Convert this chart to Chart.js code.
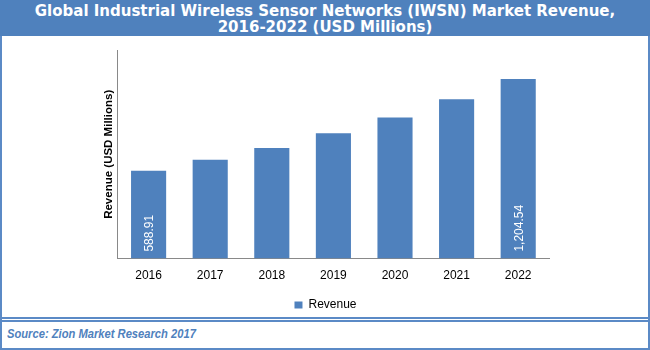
<!DOCTYPE html>
<html>
<head>
<meta charset="utf-8">
<script src="https://cdn.jsdelivr.net/npm/chart.js@4.4.1/dist/chart.umd.min.js"></script>
<style>
  html, body { margin: 0; padding: 0; background: #fff; }
  #frame { position: relative; width: 650px; height: 350px; overflow: hidden; background: #fff; }
  #header {
    position: absolute; left: 0; top: 0; width: 650px; height: 36px;
    background: #4f81bd; color: #fff; text-align: center;
    font: bold 15px "DejaVu Sans", Verdana, sans-serif; line-height: 16px;
    padding-top: 3px; box-sizing: border-box;
  }
  #panel {
    position: absolute; left: 0; top: 36px; width: 650px; height: 314px;
    box-sizing: border-box; border: 2px solid #5b8ac6; border-top: none;
  }
  #sep1 { position: absolute; left: 0; top: 317px; width: 650px; height: 2px; background: #5b8ac6; }
  #sep2 { position: absolute; left: 0; top: 320px; width: 650px; height: 2px; background: #5b8ac6; }
  #source {
    position: absolute; left: 7px; top: 326px;
    font: italic bold 13px "Liberation Sans", sans-serif;
    color: #4f81bd; transform: scaleX(0.86); transform-origin: left center;
    white-space: nowrap;
  }
  #wrap { position: absolute; left: 2px; top: 36px; width: 644px; height: 285px; }
</style>
</head>
<body>
<div id="frame">
  <div id="header">Global Industrial Wireless Sensor Networks (IWSN) Market Revenue,<br>2016-2022 (USD Millions)</div>
  <div id="panel"></div>
  <div id="sep1"></div>
  <div id="sep2"></div>
  <div id="source">Source: Zion Market Research 2017</div>
  <div id="wrap"><canvas id="grafico"></canvas></div>
</div>
<script>
// ========== Datos ==========
const anios = ["2016", "2017", "2018", "2019", "2020", "2021", "2022"];
const ingresos = [588.91, 664, 743, 841, 947, 1069, 1204.54];
const etiquetas = ["588.91", "", "", "", "", "", "1,204.54"];
const ejeMax = 1400;

// ========== Etiquetas dentro de las barras ==========
const etiquetasBarras = {
  id: "etiquetasBarras",
  afterDatasetsDraw(chart) {
    const ctx = chart.ctx;
    const meta = chart.getDatasetMeta(0);
    const base = chart.scales.y.getPixelForValue(0);
    ctx.save();
    ctx.fillStyle = "#ffffff";
    ctx.font = "12px 'Liberation Sans', sans-serif";
    ctx.textAlign = "left";
    ctx.textBaseline = "middle";
    meta.data.forEach((bar, i) => {
      if (!etiquetas[i]) return;
      ctx.save();
      ctx.translate(bar.x + 1, base - 7);
      ctx.rotate(-Math.PI / 2);
      ctx.fillText(etiquetas[i], 0, 0);
      ctx.restore();
    });
    ctx.restore();
  },
};

new Chart(document.getElementById("grafico"), {
  type: "bar",
  data: {
    labels: anios,
    datasets: [
      {
        label: "Revenue",
        data: ingresos,
        backgroundColor: "#4f81bd",
        barPercentage: 0.57,
        categoryPercentage: 1,
      },
    ],
  },
  options: {
    responsive: true,
    maintainAspectRatio: false,
    animation: false,
    layout: { padding: { left: 100, right: 97, top: 14, bottom: 0 } },
    plugins: {
      legend: {
        position: "bottom",
        labels: {
          boxWidth: 8,
          boxHeight: 7,
          color: "#000",
          font: { size: 12, family: "'Liberation Sans', sans-serif" },
          padding: 6,
        },
      },
      tooltip: { enabled: false },
    },
    scales: {
      x: {
        grid: { display: false, drawTicks: false },
        border: { color: "#898989", width: 1 },
        ticks: {
          color: "#000",
          padding: 10,
          font: { size: 12, family: "'Liberation Sans', sans-serif" },
        },
      },
      y: {
        min: 0,
        max: ejeMax,
        grid: { display: false, drawTicks: false },
        border: { color: "#898989", width: 1 },
        ticks: { display: false },
        title: {
          display: true,
          text: "Revenue (USD Millions)",
          color: "#000",
          font: { size: 11.5, weight: "bold", family: "'Liberation Sans', sans-serif" },
          padding: { top: 0, bottom: 2 },
        },
      },
    },
  },
  plugins: [etiquetasBarras],
});
</script>
</body>
</html>
